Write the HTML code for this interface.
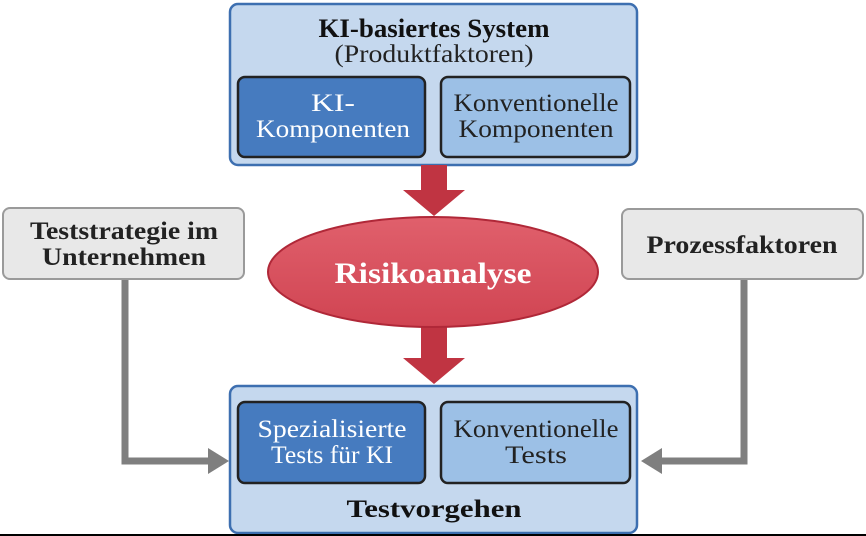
<!DOCTYPE html>
<html><head><meta charset="utf-8"><style>body{margin:0;background:#fff}svg{display:block}</style></head><body>
<svg width="866" height="536" viewBox="0 0 866 536" xmlns="http://www.w3.org/2000/svg" font-family="'Liberation Serif', serif">
<defs>
<linearGradient id="rg" x1="0" y1="0" x2="0" y2="1"><stop offset="0" stop-color="#e0606c"/><stop offset="1" stop-color="#d04452"/></linearGradient>
</defs>
<path d="M125 278 V461 H210" fill="none" stroke="#7f7f7f" stroke-width="7"/>
<polygon points="208,448 229,461 208,474" fill="#7f7f7f"/>
<path d="M744 278 V461 H660" fill="none" stroke="#7f7f7f" stroke-width="7"/>
<polygon points="662,448 641,461 662,474" fill="#7f7f7f"/>
<rect x="3" y="208" width="241" height="71" rx="7" fill="#e8e8e8" stroke="#9a9a9a" stroke-width="2"/>
<text x="124" y="239" text-anchor="middle" font-size="25" font-weight="bold" fill="#222" textLength="188" lengthAdjust="spacingAndGlyphs">Teststrategie im</text>
<text x="124" y="265" text-anchor="middle" font-size="25" font-weight="bold" fill="#222" textLength="164" lengthAdjust="spacingAndGlyphs">Unternehmen</text>
<rect x="622" y="209" width="241" height="70" rx="7" fill="#e8e8e8" stroke="#9a9a9a" stroke-width="2"/>
<text x="742" y="253" text-anchor="middle" font-size="25" font-weight="bold" fill="#222" textLength="191" lengthAdjust="spacingAndGlyphs">Prozessfaktoren</text>
<rect x="230" y="4" width="407" height="161" rx="8" fill="#c5d8ee" stroke="#3d6fb0" stroke-width="2.5"/>
<text x="434" y="37" text-anchor="middle" font-size="26" font-weight="bold" fill="#111" textLength="231" lengthAdjust="spacingAndGlyphs">KI-basiertes System</text>
<text x="434" y="62" text-anchor="middle" font-size="25" fill="#222" textLength="199" lengthAdjust="spacingAndGlyphs">(Produktfaktoren)</text>
<rect x="238" y="77" width="187" height="80" rx="7" fill="#467bbf" stroke="#222" stroke-width="2.5"/>
<text x="333" y="111" text-anchor="middle" font-size="25" fill="#fff" textLength="44" lengthAdjust="spacingAndGlyphs">KI-</text>
<text x="333" y="137" text-anchor="middle" font-size="25" fill="#fff" textLength="154" lengthAdjust="spacingAndGlyphs">Komponenten</text>
<rect x="441" y="77" width="189" height="80" rx="7" fill="#9cc0e6" stroke="#222" stroke-width="2.5"/>
<text x="536" y="111" text-anchor="middle" font-size="25" fill="#222" textLength="165" lengthAdjust="spacingAndGlyphs">Konventionelle</text>
<text x="536" y="137" text-anchor="middle" font-size="25" fill="#222" textLength="155" lengthAdjust="spacingAndGlyphs">Komponenten</text>
<polygon points="421,165 447,165 447,190 465,190 434,216 403,190 421,190" fill="#c03442"/>
<polygon points="421,326 447,326 447,358 465,358 434,384 403,358 421,358" fill="#c03442"/>
<ellipse cx="433" cy="272" rx="165" ry="55" fill="url(#rg)" stroke="#b02838" stroke-width="2"/>
<text x="433" y="283" text-anchor="middle" font-size="30" font-weight="bold" fill="#fff" textLength="197" lengthAdjust="spacingAndGlyphs">Risikoanalyse</text>
<rect x="230" y="386" width="407" height="147" rx="8" fill="#c5d8ee" stroke="#3d6fb0" stroke-width="2.5"/>
<rect x="238" y="402" width="187" height="81" rx="7" fill="#467bbf" stroke="#222" stroke-width="2.5"/>
<text x="332" y="437" text-anchor="middle" font-size="25" fill="#fff" textLength="149" lengthAdjust="spacingAndGlyphs">Spezialisierte</text>
<text x="332" y="463" text-anchor="middle" font-size="25" fill="#fff" textLength="122" lengthAdjust="spacingAndGlyphs">Tests für KI</text>
<rect x="441" y="402" width="189" height="81" rx="7" fill="#9cc0e6" stroke="#222" stroke-width="2.5"/>
<text x="536" y="437" text-anchor="middle" font-size="25" fill="#222" textLength="165" lengthAdjust="spacingAndGlyphs">Konventionelle</text>
<text x="536" y="463" text-anchor="middle" font-size="25" fill="#222" textLength="62" lengthAdjust="spacingAndGlyphs">Tests</text>
<text x="434" y="517" text-anchor="middle" font-size="25" font-weight="bold" fill="#111" textLength="175" lengthAdjust="spacingAndGlyphs">Testvorgehen</text>
<line x1="0" y1="535" x2="866" y2="535" stroke="#000" stroke-width="2"/>
</svg>
</body></html>
